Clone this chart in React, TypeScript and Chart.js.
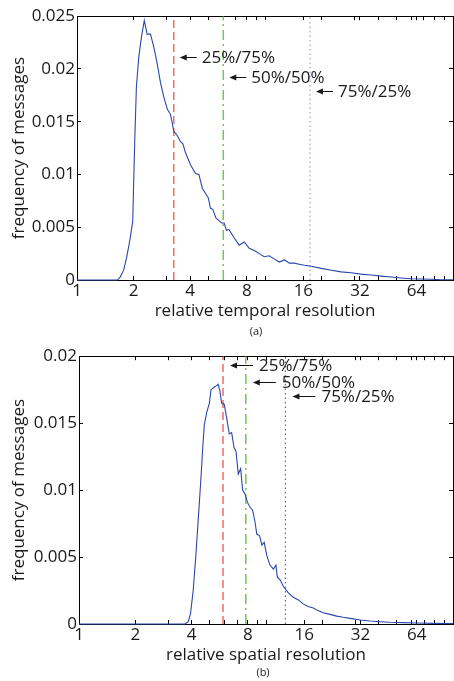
import React, { useEffect, useRef } from "react";
import { Chart, registerables } from "chart.js";

Chart.register(...registerables);

// ---- data ----
const xTickValues = [1, 2, 4, 8, 16, 32, 64];
const xMinorValues = [3, 5, 6, 7, 9, 10, 20, 30, 40, 50, 60, 70, 80, 90];
const topYTicks = [0, 0.005, 0.01, 0.015, 0.02, 0.025];
const bottomYTicks = [0, 0.005, 0.01, 0.015, 0.02];

const temporalX = [1, 1.5, 1.64, 1.7, 1.77, 1.84, 1.92, 1.98, 2.0, 2.03, 2.07, 2.13, 2.2, 2.28, 2.36, 2.46, 2.56, 2.67, 2.78, 2.89, 3.02, 3.14, 3.21, 3.27, 3.41, 3.55, 3.66, 3.77, 4.02, 4.27, 4.45, 4.64, 4.83, 4.99, 5.13, 5.28, 5.47, 5.7, 5.88, 6.06, 6.24, 6.43, 6.85, 7.29, 7.76, 8.24, 8.78, 9.32, 9.9, 10.53, 11.2, 11.9, 12.7, 13.5, 14.3, 15.2, 16.2, 17.6, 19.9, 22.5, 25.4, 28.7, 32.4, 36.7, 41.4, 46.8, 52.9, 59.8, 67.6, 76.4, 86.3, 100];
const temporalY = [0, 0, 0, 0.0003, 0.00093, 0.0022, 0.004, 0.0056, 0.009, 0.0134, 0.0183, 0.0211, 0.023, 0.0246, 0.0233, 0.0233, 0.0221, 0.0205, 0.0187, 0.0174, 0.0162, 0.0157, 0.0149, 0.0141, 0.0137, 0.0131, 0.0129, 0.0121, 0.0109, 0.0101, 0.01, 0.0087, 0.0082, 0.0078, 0.0068, 0.0067, 0.0059, 0.0056, 0.0054, 0.0054, 0.0047, 0.0048, 0.004, 0.0033, 0.0036, 0.003, 0.0028, 0.0025, 0.0022, 0.0023, 0.002, 0.0017, 0.0019, 0.0016, 0.0016, 0.0015, 0.0014, 0.0013, 0.0011, 0.00093, 0.00077, 0.00068, 0.00056, 0.00047, 0.00037, 0.00028, 0.00019, 0.00012, 0.0001, 0.00007, 0.00003, 0.00002];

const spatialX = [1, 3.0, 3.69, 3.84, 3.95, 4.08, 4.21, 4.35, 4.48, 4.59, 4.68, 4.82, 4.98, 5.08, 5.19, 5.29, 5.44, 5.55, 5.67, 5.79, 5.98, 6.16, 6.36, 6.55, 6.74, 6.91, 7.11, 7.32, 7.5, 7.73, 7.95, 8.23, 8.48, 8.74, 8.93, 9.23, 9.51, 9.78, 10.1, 10.5, 10.96, 11.3, 11.5, 11.9, 12.4, 13.2, 14.0, 14.9, 15.8, 16.8, 17.9, 19.0, 20.2, 22.0, 23.9, 25.9, 28.2, 31.9, 36.0, 40.7, 46.0, 54.1, 63.9, 78.7, 100];
const spatialY = [0, 0, 0, 0.00017, 0.0008, 0.0025, 0.005, 0.008, 0.0107, 0.0132, 0.0149, 0.0158, 0.0165, 0.0175, 0.0176, 0.0177, 0.0178, 0.0179, 0.0174, 0.0165, 0.0164, 0.0154, 0.0142, 0.0143, 0.0132, 0.0129, 0.0112, 0.0116, 0.01, 0.0097, 0.0091, 0.0087, 0.0085, 0.0076, 0.0067, 0.0066, 0.0059, 0.0061, 0.0051, 0.0044, 0.0041, 0.0044, 0.0035, 0.0033, 0.0028, 0.0023, 0.002, 0.0018, 0.0015, 0.0013, 0.0012, 0.001, 0.00084, 0.00072, 0.00059, 0.0005, 0.00042, 0.0003, 0.00022, 0.00017, 0.00013, 0.0001, 0.00007, 0.00005, 0.00003];

const splitLabels = ["25%/75%", "50%/50%", "75%/25%"];
const temporalSplits = [3.27, 6.0, 17.35];
const spatialSplits = [5.89, 7.8, 12.7];
const temporalLabelY = [0.02115, 0.01928, 0.01788];
const spatialLabelY = [0.01933, 0.01807, 0.01703];

const FONT = "'Open Sans', sans-serif";
const FS = 17;
const TEXT = "#1a1a1a";
const splitColorsTop = ["#f06a6a", "#72c850", "#8f9ff0"];
const splitColorsBottom = ["#f06a6a", "#72c850", "#5a5ad8"];
const splitDashes = [[8, 4], [10, 4, 2, 4], [1.5, 3]];

const allXTicks = [...xTickValues, ...xMinorValues].sort((a, b) => a - b);

type PanelProps = {
  xs: number[];
  ys: number[];
  yTicks: number[];
  yMax: number;
  splits: number[];
  labelYs: number[];
  xTitle: string;
  caption: string;
  height: number;
  padTop: number;
  yWidth: number;
  xHeight: number;
  titlePadBottom: number;
  captionY: number;
  captionX: number;
  arrowGap: number;
  arrowLen: number;
  textGap: number;
  splitColors: string[];
};

const inwardGrid = {
  display: true,
  drawOnChartArea: false,
  drawTicks: true,
  tickLength: -4,
  tickColor: "#000",
  tickWidth: 1,
  color: "#000",
};
const blackBorder = { display: true, color: "#000", width: 1 };

function Panel(p: PanelProps) {
  const ref = useRef<HTMLCanvasElement | null>(null);
  useEffect(() => {
    if (!ref.current) return;
    const overlay = {
      id: "matlabOverlay",
      afterDraw(chart: any) {
        const ctx = chart.ctx;
        const xs = chart.scales.x;
        const ys = chart.scales.y;
        ctx.save();
        ctx.setLineDash([]);
        ctx.fillStyle = TEXT;
        ctx.strokeStyle = "#111";
        ctx.lineWidth = 1;
        ctx.font = `${FS}px ${FONT}`;
        ctx.textBaseline = "middle";
        ctx.textAlign = "left";
        p.splits.forEach((s, i) => {
          const tip = xs.getPixelForValue(s) + p.arrowGap;
          const y = Math.round(ys.getPixelForValue(p.labelYs[i])) + 0.5;
          const tail = tip + p.arrowLen;
          ctx.beginPath();
          ctx.moveTo(tip + 5, y);
          ctx.lineTo(tail, y);
          ctx.stroke();
          ctx.beginPath();
          ctx.moveTo(tip, y);
          ctx.lineTo(tip + 7, y - 3);
          ctx.lineTo(tip + 7, y + 3);
          ctx.closePath();
          ctx.fill();
          ctx.fillText(splitLabels[i], tail + p.textGap, y + 1);
        });
        ctx.font = `11px ${FONT}`;
        ctx.textAlign = "center";
        ctx.fillText(p.caption, p.captionX, p.captionY);
        ctx.restore();
      },
    };
    const datasets: any[] = [
      {
        data: p.xs.map((x, i) => ({ x, y: p.ys[i] })),
        borderColor: "#2a47aa",
        borderWidth: 1.1,
        pointRadius: 0,
        tension: 0,
        clip: 2,
      },
    ];
    p.splits.forEach((s, i) => {
      datasets.push({
        data: [
          { x: s, y: 0 },
          { x: s, y: p.yMax },
        ],
        borderColor: p.splitColors[i],
        borderDash: splitDashes[i],
        borderWidth: i === 2 ? 1.2 : 1.5,
        pointRadius: 0,
      });
    });
    const xTicksBuilder = (s: any) => {
      s.ticks = allXTicks.map((v) => ({ value: v }));
    };
    const yTicksBuilder = (s: any) => {
      s.ticks = p.yTicks.map((v) => ({ value: v }));
    };
    const chart = new Chart(ref.current, {
      type: "line",
      data: { datasets },
      options: {
        animation: false,
        responsive: false,
        maintainAspectRatio: false,
        layout: { padding: { top: p.padTop, right: 1, left: 0, bottom: 0 } },
        plugins: { legend: { display: false }, tooltip: { enabled: false } },
        scales: {
          x: {
            type: "logarithmic",
            position: "bottom",
            min: 1,
            max: 100,
            grid: inwardGrid,
            border: blackBorder,
            afterBuildTicks: xTicksBuilder,
            afterFit: (s: any) => {
              s.height = p.xHeight;
            },
            ticks: {
              autoSkip: false,
              maxRotation: 0,
              padding: 5,
              color: TEXT,
              font: { family: FONT, size: FS },
              callback: (v: any) => (xTickValues.includes(Number(v)) ? String(v) : ""),
            },
            title: {
              display: true,
              text: p.xTitle,
              color: TEXT,
              font: { family: FONT, size: FS },
              padding: { top: 0, bottom: p.titlePadBottom },
            },
          },
          x2: {
            type: "logarithmic",
            position: "top",
            min: 1,
            max: 100,
            grid: inwardGrid,
            border: blackBorder,
            afterBuildTicks: xTicksBuilder,
            afterFit: (s: any) => {
              s.height = 0;
            },
            ticks: { display: false },
          },
          y: {
            type: "linear",
            position: "left",
            min: 0,
            max: p.yMax,
            grid: inwardGrid,
            border: blackBorder,
            afterBuildTicks: yTicksBuilder,
            afterFit: (s: any) => {
              s.width = p.yWidth;
            },
            ticks: {
              padding: 6,
              color: TEXT,
              font: { family: FONT, size: FS },
              callback: (v: any) => String(v),
            },
            title: {
              display: true,
              text: "frequency of messages",
              color: TEXT,
              font: { family: FONT, size: FS },
              padding: { top: 9, bottom: 0 },
            },
          },
          y2: {
            type: "linear",
            position: "right",
            min: 0,
            max: p.yMax,
            grid: inwardGrid,
            border: blackBorder,
            afterBuildTicks: yTicksBuilder,
            afterFit: (s: any) => {
              s.width = 0;
            },
            ticks: { display: false },
          },
        },
      } as any,
      plugins: [overlay],
    });
    return () => chart.destroy();
  }, []);
  return <canvas ref={ref} width={454} height={p.height} style={{ display: "block", width: 454, height: p.height }} />;
}

export default function App() {
  return (
    <div style={{ position: "fixed", left: 0, top: 0, width: 454, height: 681, background: "#fff", overflow: "hidden" }}>
      <div style={{ position: "absolute", left: 0, top: 0 }}>
        <Panel
          xs={temporalX}
          ys={temporalY}
          yTicks={topYTicks}
          yMax={0.025}
          splits={temporalSplits}
          labelYs={temporalLabelY}
          xTitle="relative temporal resolution"
          caption="(a)"
          height={340}
          padTop={12}
          yWidth={77}
          xHeight={60}
          titlePadBottom={19}
          captionY={332}
          captionX={256}
          arrowGap={6}
          arrowLen={17}
          textGap={5}
          splitColors={splitColorsTop}
        />
      </div>
      <div style={{ position: "absolute", left: 0, top: 340 }}>
        <Panel
          xs={spatialX}
          ys={spatialY}
          yTicks={bottomYTicks}
          yMax={0.02}
          splits={spatialSplits}
          labelYs={spatialLabelY}
          xTitle="relative spatial resolution"
          caption="(b)"
          height={341}
          padTop={15}
          yWidth={79}
          xHeight={57}
          titlePadBottom={16}
          captionY={333}
          captionX={263}
          arrowGap={7}
          arrowLen={23}
          textGap={6}
          splitColors={splitColorsBottom}
        />
      </div>
    </div>
  );
}
